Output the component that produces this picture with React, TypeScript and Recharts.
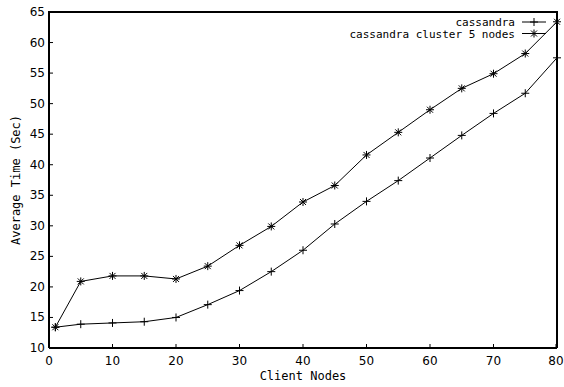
import React from 'react';
import { LineChart, Line, XAxis, YAxis } from 'recharts';

// client node counts on the x axis
const clientNodes = [1, 5, 10, 15, 20, 25, 30, 35, 40, 45, 50, 55, 60, 65, 70, 75, 80];

// average time (sec) per series
const cassandra = [13.4, 13.9, 14.1, 14.3, 15.0, 17.1, 19.4, 22.5, 26.0, 30.3, 34.0, 37.4, 41.1, 44.8, 48.4, 51.7, 57.5];
const cassandraCluster = [13.4, 20.9, 21.8, 21.8, 21.3, 23.4, 26.8, 29.9, 33.9, 36.6, 41.6, 45.3, 49.0, 52.5, 54.9, 58.2, 63.4];

const xTicks = [0, 10, 20, 30, 40, 50, 60, 70, 80];
const yTicks = [10, 15, 20, 25, 30, 35, 40, 45, 50, 55, 60, 65];

const seriesNames = ['cassandra', 'cassandra cluster 5 nodes'];

const rows = clientNodes.map((x, i) => ({
  x,
  cassandra: cassandra[i],
  cluster: cassandraCluster[i]
}));

const NUM_FONT = '"DejaVu Sans", sans-serif';
const MONO_FONT = '"DejaVu Sans Mono", monospace';

const MARGIN = { top: 12, right: 7, bottom: 0, left: 0 };
const Y_AXIS_W = 49;
const X_AXIS_H = 39;
const W = 564;
const H = 387;

const PlusMark = ({ cx, cy }: { cx: number; cy: number }) => (
  <g stroke="#000" strokeWidth={1}>
    <line x1={cx - 4} y1={cy} x2={cx + 4} y2={cy} />
    <line x1={cx} y1={cy - 4} x2={cx} y2={cy + 4} />
  </g>
);

const StarMark = ({ cx, cy }: { cx: number; cy: number }) => (
  <g stroke="#000" strokeWidth={1}>
    <line x1={cx - 4} y1={cy} x2={cx + 4} y2={cy} />
    <line x1={cx} y1={cy - 4} x2={cx} y2={cy + 4} />
    <line x1={cx - 3} y1={cy - 3} x2={cx + 3} y2={cy + 3} />
    <line x1={cx - 3} y1={cy + 3} x2={cx + 3} y2={cy - 3} />
  </g>
);

const BottomTick = (props: any) => {
  const { x, y, payload } = props;
  return (
    <g>
      <line x1={x} y1={y} x2={x} y2={y - 4} stroke="#000" />
      <text x={x} y={y + 17} textAnchor="middle" fontSize={12} fontFamily={NUM_FONT} fill="#000">
        {payload.value}
      </text>
    </g>
  );
};

const LeftTick = (props: any) => {
  const { x, y, payload } = props;
  return (
    <g>
      <line x1={x} y1={y} x2={x + 4} y2={y} stroke="#000" />
      <text x={x - 4} y={y + 4} textAnchor="end" fontSize={12} fontFamily={NUM_FONT} fill="#000">
        {payload.value}
      </text>
    </g>
  );
};

// legend laid over the top right corner of the plot
const LegendOverlay = () => (
  <svg width={230} height={28} style={{ position: 'absolute', left: 330, top: 15 }}>
    {seriesNames.map((name, i) => {
      const cy = 7 + i * 11.5;
      return (
        <g key={name}>
          <text x={185} y={cy + 4} textAnchor="end" fontSize={11} fontFamily={MONO_FONT} fill="#000">
            {name}
          </text>
          <line x1={192} y1={cy} x2={216} y2={cy} stroke="#000" />
          {i === 0 ? <PlusMark cx={204} cy={cy} /> : <StarMark cx={204} cy={cy} />}
        </g>
      );
    })}
  </svg>
);

// top and right edges of the plot box, from the same layout numbers as the chart
const FrameEdges = () => {
  const left = MARGIN.left + Y_AXIS_W;
  const top = MARGIN.top;
  const right = W - MARGIN.right;
  const bottom = H - MARGIN.bottom - X_AXIS_H;
  return (
    <div
      style={{
        position: 'absolute',
        left: left - 1,
        top: top - 1,
        width: right - left + 2,
        height: bottom - top + 1,
        boxSizing: 'border-box',
        borderTop: '2px solid #000',
        borderRight: '2px solid #000',
        pointerEvents: 'none'
      }}
    />
  );
};

export default function App() {
  return (
    <div style={{ position: 'absolute', left: 0, top: 0, width: W, height: H, background: '#fff' }}>
      <LineChart width={W} height={H} data={rows} margin={MARGIN}>
        <XAxis
          dataKey="x"
          type="number"
          domain={[0, 80]}
          ticks={xTicks}
          height={X_AXIS_H}
          tickSize={0}
          tickMargin={0}
          tickLine={false}
          tick={BottomTick}
          axisLine={{ stroke: '#000', strokeWidth: 2 }}
          label={{
            content: (p: any) => {
              const vb = p.viewBox;
              return (
                <text x={vb.x + vb.width / 2} y={vb.y + 32} textAnchor="middle" fontSize={12} fontFamily={MONO_FONT} fill="#000">
                  Client Nodes
                </text>
              );
            }
          }}
        />
        <YAxis
          type="number"
          domain={[10, 65]}
          ticks={yTicks}
          width={Y_AXIS_W}
          tickSize={0}
          tickMargin={0}
          tickLine={false}
          tick={LeftTick}
          axisLine={{ stroke: '#000', strokeWidth: 2 }}
          label={{
            content: (p: any) => {
              const vb = p.viewBox;
              const cy = vb.y + vb.height / 2;
              return (
                <text x={16} y={cy} transform={`rotate(-90 16 ${cy})`} textAnchor="middle" dominantBaseline="central" fontSize={12} fontFamily={MONO_FONT} fill="#000">
                  Average Time (Sec)
                </text>
              );
            }
          }}
        />
        <Line
          dataKey="cassandra"
          name={seriesNames[0]}
          stroke="#000"
          strokeWidth={1}
          isAnimationActive={false}
          dot={(p: any) => <PlusMark key={`p-${p.index}`} cx={p.cx} cy={p.cy} />}
        />
        <Line
          dataKey="cluster"
          name={seriesNames[1]}
          stroke="#000"
          strokeWidth={1}
          isAnimationActive={false}
          dot={(p: any) => <StarMark key={`s-${p.index}`} cx={p.cx} cy={p.cy} />}
        />
      </LineChart>
      <FrameEdges />
      <LegendOverlay />
    </div>
  );
}
